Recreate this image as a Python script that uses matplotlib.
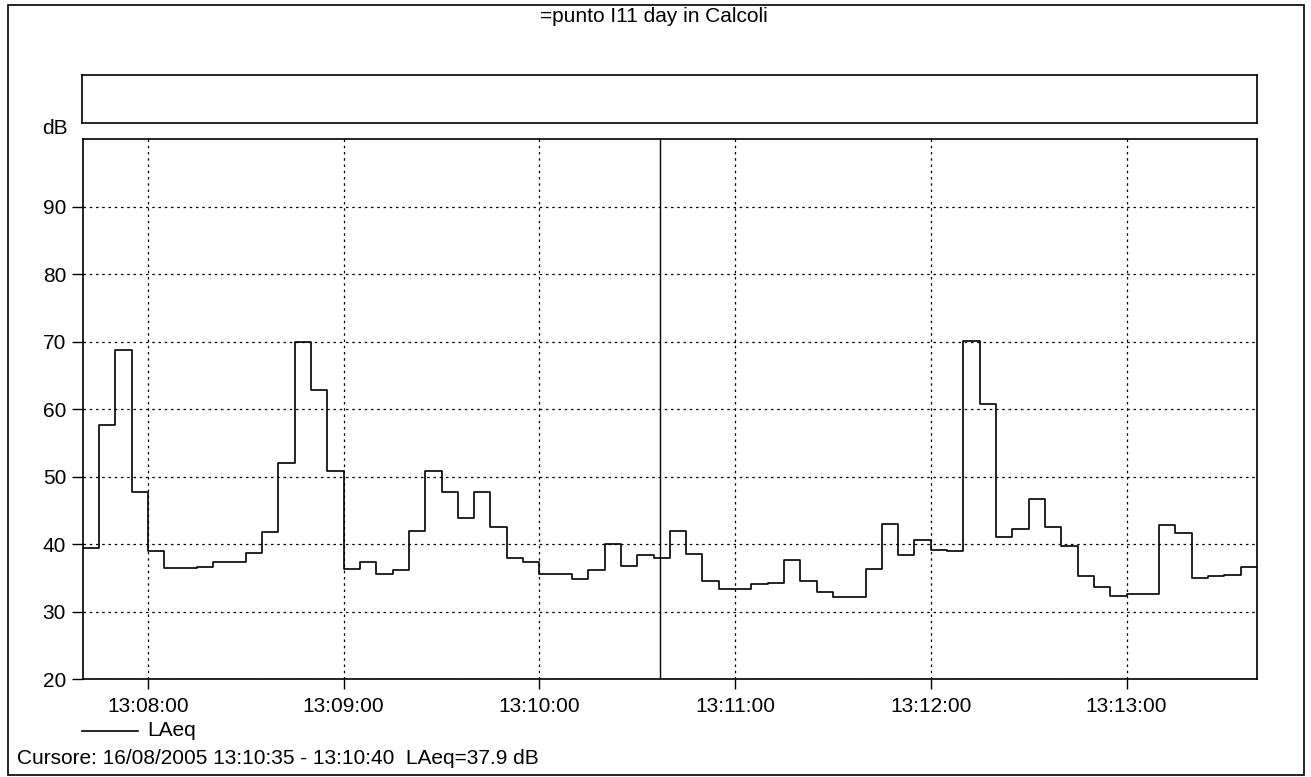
import numpy as np
import pandas as pd
import matplotlib
matplotlib.use('Agg')
import matplotlib.pyplot as plt
import matplotlib.dates as mdates
from matplotlib.patches import Rectangle
from matplotlib.lines import Line2D

plt.rcParams['font.family'] = ['Liberation Sans', 'DejaVu Sans']

# LAeq every 5 s, 13:07:40 - 13:13:40
start = '2005-08-16 13:07:40'
laeq = [39.5, 57.7, 68.8, 47.7, 39.0, 36.5, 36.5, 36.6, 37.4, 37.4,
        38.7, 41.8, 52.1, 70.0, 62.9, 50.9, 36.3, 37.3, 35.6, 36.2,
        41.9, 50.8, 47.8, 43.9, 47.7, 42.6, 38.0, 37.3, 35.6, 35.6,
        34.8, 36.2, 40.0, 36.8, 38.4, 37.9, 42.0, 38.6, 34.5, 33.3,
        33.4, 34.1, 34.3, 37.7, 34.5, 32.9, 32.2, 32.2, 36.4, 43.0,
        38.4, 40.6, 39.2, 39.0, 70.1, 60.8, 41.0, 42.2, 46.7, 42.5,
        39.7, 35.3, 33.7, 32.3, 32.7, 32.7, 42.8, 41.6, 35.0, 35.3,
        35.4, 36.7]
cursor_time = '2005-08-16 13:10:37'
y_ticks = [20, 30, 40, 50, 60, 70, 80, 90]
title = '=punto I11 day in Calcoli'
status = 'Cursore: 16/08/2005 13:10:35 - 13:10:40  LAeq=37.9 dB'

times = pd.date_range(start, periods=len(laeq) + 1, freq='5s')
vals = np.append(laeq, laeq[-1])

W, H = 1311, 777
fig = plt.figure(figsize=(W / 100, H / 100), dpi=100)

# outer frame
fig.patches.append(Rectangle((8 / W, 1 - 775 / H), (1304 - 8) / W, (775 - 5) / H,
                             transform=fig.transFigure, fill=False, lw=1.2, ec='black'))

# empty box above the plot
box = fig.add_axes([82 / W, 1 - 123 / H, (1257 - 82) / W, 48 / H])
box.set_xticks([])
box.set_yticks([])
for s in box.spines.values():
    s.set_linewidth(1.2)

ax = fig.add_axes([82.7 / W, 1 - 679.3 / H, (1257 - 82.7) / W, (679.3 - 139) / H])
ax.step(times, vals, where='post', color='black', lw=1.2)
ax.axvline(pd.Timestamp(cursor_time), color='black', lw=1.0)

ax.set_xlim(times[0], times[-1])
ax.set_ylim(20, 100)
ax.set_yticks(y_ticks)
ax.xaxis.set_major_locator(mdates.MinuteLocator())
ax.xaxis.set_major_formatter(mdates.DateFormatter('%H:%M:%S'))
ax.grid(True, color='black', linestyle=(0, (2, 3)), lw=0.9)
ax.tick_params(axis='both', labelsize=15, width=1, color='black')
ax.tick_params(axis='y', length=8, pad=4)
ax.tick_params(axis='x', length=7, pad=6)
for s in ax.spines.values():
    s.set_linewidth(1.2)

fig.text(42 / W, 1 - 129 / H, 'dB', fontsize=15, va='center', ha='left')
fig.text(654 / W, 1 - 17 / H, title, fontsize=15, va='center', ha='center')

# legend
fig.add_artist(Line2D([82 / W, 138 / W], [1 - 731 / H, 1 - 731 / H],
                      transform=fig.transFigure, color='black', lw=1.2))
fig.text(147 / W, 1 - 731 / H, 'LAeq', fontsize=15, va='center', ha='left')
fig.text(17 / W, 1 - 758 / H, status, fontsize=15, va='center', ha='left')

fig.savefig('out.png', dpi=100)
